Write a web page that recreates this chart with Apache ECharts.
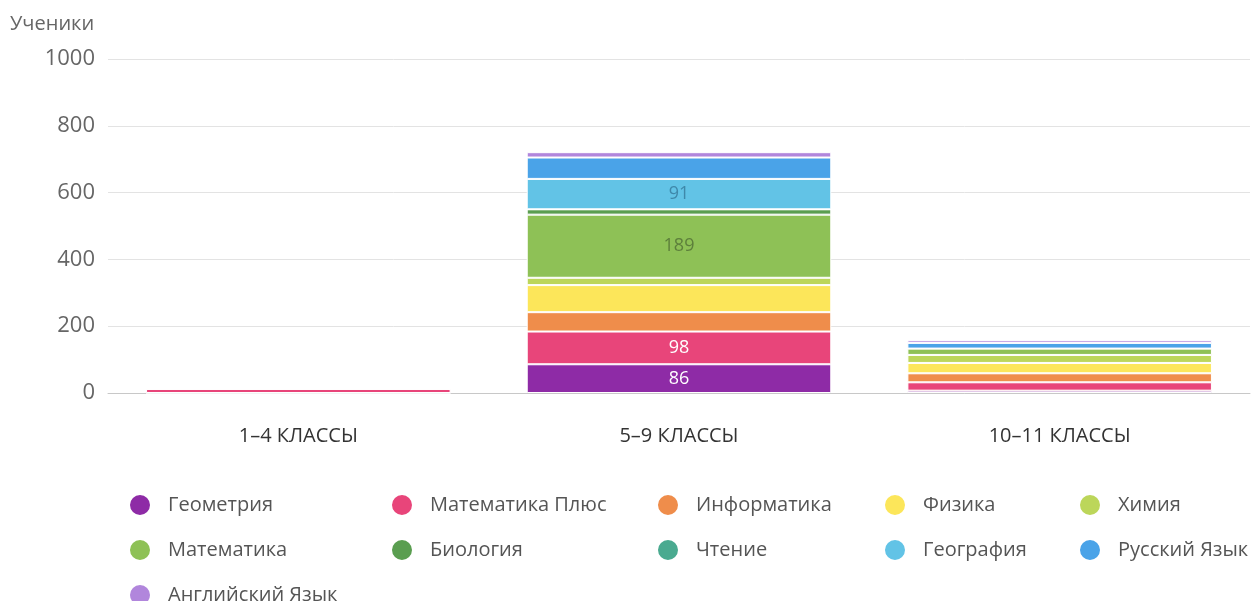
<!DOCTYPE html>
<html>
<head>
<meta charset="utf-8">
<script src="https://cdn.jsdelivr.net/npm/echarts@6/dist/echarts.min.js"></script>
<style>
  html, body { margin: 0; padding: 0; background: #fff; }
  #chart { width: 1251px; height: 601px; }
</style>
</head>
<body>
<div id="chart"></div>
<script>
const categories = ["1–4 КЛАССЫ", "5–9 КЛАССЫ", "10–11 КЛАССЫ"];

// values per subject, in category order
const geometry    = [0, 86, 7];
const mathPlus    = [12, 98, 25];
const informatics = [0, 58, 27];
const physics     = [0, 81, 31];
const chemistry   = [0, 22, 24];
const maths       = [0, 189, 19];
const biology     = [0, 16, 0];
const reading     = [0, 0, 0];
const geography   = [0, 91, 0];
const russian     = [0, 64, 17];
const english     = [0, 16, 8];

const subjects = [
  { name: "Геометрия", data: geometry, color: "#8e2ba6", label: "#ffffff" },
  { name: "Математика Плюс", data: mathPlus, color: "#e8457a", label: "#ffffff" },
  { name: "Информатика", data: informatics, color: "#ef8d4b", label: "#ffffff" },
  { name: "Физика", data: physics, color: "#fce65a", label: "#6b6b3a" },
  { name: "Химия", data: chemistry, color: "#bcd65a", label: "#5f6b2d" },
  { name: "Математика", data: maths, color: "#8ec156", label: "#5d7f3b" },
  { name: "Биология", data: biology, color: "#5a9e50", label: "#ffffff" },
  { name: "Чтение", data: reading, color: "#4aaa90", label: "#ffffff" },
  { name: "География", data: geography, color: "#62c3e6", label: "#3f88aa" },
  { name: "Русский Язык", data: russian, color: "#4aa3e8", label: "#ffffff" },
  { name: "Английский Язык", data: english, color: "#b186dc", label: "#ffffff" }
];

// legend columns (Highcharts-style aligned columns)
const legendColumns = [
  { left: 123, names: ["Геометрия", "Математика", "Английский Язык"] },
  { left: 385, names: ["Математика Плюс", "Биология"] },
  { left: 651, names: ["Информатика", "Чтение"] },
  { left: 878, names: ["Физика", "География"] },
  { left: 1073, names: ["Химия", "Русский Язык"] }
];

const font = "'Open Sans', 'Noto Sans', sans-serif";

const chart = echarts.init(document.getElementById("chart"));

chart.setOption({
  animation: false,
  backgroundColor: "#fff",
  title: {
    text: "Ученики",
    left: 5,
    top: 9,
    textStyle: { color: "#666", fontSize: 20, fontWeight: "normal", fontFamily: font }
  },
  grid: { left: 108, right: 1, top: 59, bottom: 208 },
  legend: legendColumns.map((col) => ({
    orient: "vertical",
    left: col.left,
    top: 488,
    height: 160,
    icon: "circle",
    itemWidth: 22,
    itemHeight: 22,
    itemGap: 21,
    data: col.names,
    textStyle: { color: "#555", fontSize: 20, fontFamily: font, padding: [0, 0, 0, 12] }
  })),
  xAxis: {
    type: "category",
    data: categories,
    axisTick: { show: false },
    axisLine: { lineStyle: { color: "#c8c8c8" } },
    axisLabel: { color: "#333", fontSize: 20, fontFamily: font, margin: 33 }
  },
  yAxis: {
    type: "value",
    min: 0,
    max: 1000,
    interval: 200,
    axisLabel: { color: "#666", fontSize: 22, fontFamily: font, margin: 13, formatter: (v) => String(v) },
    splitLine: { lineStyle: { color: "#e3e3e3" } }
  },
  series: subjects.map((s) => ({
    name: s.name,
    type: "bar",
    stack: "total",
    barWidth: "80%",
    color: s.color,
    itemStyle: { color: s.color, borderColor: "#fff", borderWidth: 1 },
    data: s.data.map((v) => ({
      value: v,
      label: {
        show: v > 85,
        position: "inside",
        color: s.label,
        fontSize: 18,
        fontFamily: font
      }
    }))
  }))
});
</script>
</body>
</html>
